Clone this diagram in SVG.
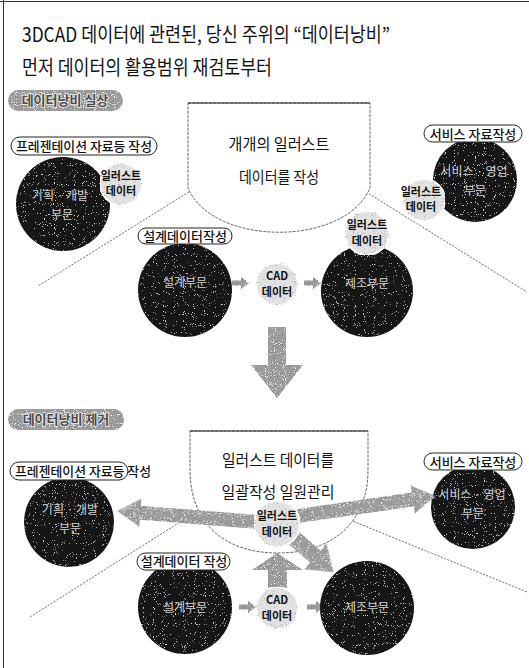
<svg xmlns="http://www.w3.org/2000/svg" width="529" height="668" viewBox="0 0 529 668">
<style>
text{font-family:"Noto Sans CJK KR","Noto Sans",sans-serif;text-anchor:middle}
.title{font-size:20px;fill:#111;text-anchor:start}
.lbl{font-size:13px;fill:#111;font-weight:500}
.gl{font-size:13px;fill:#4a4a4a;font-weight:700;stroke:#eee;stroke-width:1.6px;paint-order:stroke}
.ct{font-size:12px;fill:#d0d0d0}
.bt{font-size:11px;fill:#111;font-weight:700}
.big{font-size:16px;fill:#111}
.pill{fill:#fff;stroke:#222;stroke-width:1}
.dark{fill:#141414}
.bub{fill:#e2e2e2;stroke:#fff;stroke-width:2}
.gray{fill:#9c9c9c}
.dot{stroke:#444;stroke-width:0.8;stroke-dasharray:2 1.5;fill:none}
.frame{fill:#fff;stroke:#555;stroke-width:0.9;stroke-dasharray:3 1.2}
.ftop{stroke:#222;stroke-width:1.2}
</style>
<defs>
<filter id="spkD" x="0" y="0" width="100%" height="100%">
<feTurbulence type="fractalNoise" baseFrequency="1.1" numOctaves="1" seed="3" result="n"/>
<feColorMatrix in="n" type="matrix" values="0 0 0 0 0.7 0 0 0 0 0.7 0 0 0 0 0.7 14 0 0 0 -9.3" result="w"/>
<feComposite in="w" in2="SourceGraphic" operator="in" result="wi"/>
<feMerge><feMergeNode in="SourceGraphic"/><feMergeNode in="wi"/></feMerge>
</filter>
<filter id="spkG" x="0" y="0" width="100%" height="100%">
<feTurbulence type="fractalNoise" baseFrequency="1.1" numOctaves="1" seed="5" result="n"/>
<feColorMatrix in="n" type="matrix" values="0 0 0 0 0.2 0 0 0 0 0.2 0 0 0 0 0.2 12 0 0 0 -7.4" result="k"/>
<feColorMatrix in="n" type="matrix" values="0 0 0 0 1 0 0 0 0 1 0 0 0 0 1 -12 0 0 0 4.6" result="w"/>
<feComposite in="k" in2="SourceGraphic" operator="in" result="ki"/>
<feComposite in="w" in2="SourceGraphic" operator="in" result="wi"/>
<feMerge><feMergeNode in="SourceGraphic"/><feMergeNode in="ki"/><feMergeNode in="wi"/></feMerge>
</filter>
<filter id="spkL" x="0" y="0" width="100%" height="100%">
<feTurbulence type="fractalNoise" baseFrequency="1.1" numOctaves="1" seed="7" result="n"/>
<feColorMatrix in="n" type="matrix" values="0 0 0 0 0.4 0 0 0 0 0.4 0 0 0 0 0.4 12 0 0 0 -7.6" result="k"/>
<feComposite in="k" in2="SourceGraphic" operator="in" result="ki"/>
<feMerge><feMergeNode in="SourceGraphic"/><feMergeNode in="ki"/></feMerge>
</filter>
<path id="sa" d="M0,-2.5 H9 V-6 L17,0 L9,6 V2.5 H0 Z"/>
</defs>
<rect width="529" height="668" fill="#fff"/>
<line x1="3.5" y1="0" x2="3.5" y2="668" stroke="#333" stroke-width="1"/>
<line x1="0" y1="1.5" x2="529" y2="1.5" stroke="#333" stroke-width="1"/>

<g id="title">
<text class="title" x="22" y="42" textLength="368" lengthAdjust="spacingAndGlyphs">3DCAD 데이터에 관련된, 당신 주위의 “데이터낭비”</text>
<text class="title" x="22" y="75" textLength="250" lengthAdjust="spacingAndGlyphs">먼저 데이터의 활용범위 재검토부터</text>
</g>

<g id="connectors">
<line class="dot" x1="192" y1="190" x2="38" y2="286"/>
<line class="dot" x1="366" y1="192" x2="527" y2="292"/>
<line class="dot" x1="218" y1="498" x2="30" y2="617"/>
<line class="dot" x1="350" y1="520" x2="527" y2="592"/>
<use href="#sa" x="232" y="283" class="gray" filter="url(#spkG)"/>
<use href="#sa" x="304" y="283" class="gray" filter="url(#spkG)"/>
<use href="#sa" x="239" y="607" class="gray" filter="url(#spkG)"/>
<use href="#sa" x="307" y="607" class="gray" filter="url(#spkG)"/>
<path class="gray" filter="url(#spkG)" d="M268,327 H286 V365 H303 L277,398 L251,365 H268 Z"/>
</g>

<g id="top-label">
<rect x="8" y="90" width="115" height="21" rx="10.5" class="gray" filter="url(#spkG)"/>
<text class="gl" x="65" y="105">데이터낭비 실상</text>
</g>

<g id="top-center">
<path class="frame" d="M188,103 H370 V188 C345,247 213,247 188,188 Z"/>
<line class="ftop" x1="188" y1="103" x2="370" y2="103"/>
<text class="big" x="279" y="150" textLength="101" lengthAdjust="spacingAndGlyphs">개개의 일러스트</text>
<text class="big" x="279" y="183" textLength="80" lengthAdjust="spacingAndGlyphs">데이터를 작성</text>
</g>

<g id="top-plan">
<rect class="pill" x="11" y="137" width="146" height="18" rx="9"/>
<text class="lbl" x="84" y="151" textLength="136" lengthAdjust="spacingAndGlyphs">프레젠테이션 자료등 작성</text>
<circle class="dark" filter="url(#spkD)" cx="63" cy="204" r="47"/>
<text class="ct" x="60" y="200">기획 · 개발</text>
<text class="ct" x="62" y="219">부문</text>
<circle class="bub" filter="url(#spkL)" cx="121" cy="184" r="21"/>
<text class="bt" x="121" y="180">일러스트</text>
<text class="bt" x="121" y="195">데이터</text>
</g>

<g id="top-service">
<circle class="dark" filter="url(#spkD)" cx="475" cy="180" r="42"/>
<text class="ct" x="474" y="176">서비스 · 영업</text>
<text class="ct" x="475" y="195">부문</text>
<rect class="pill" x="424" y="125" width="98" height="17" rx="8.5"/>
<text class="lbl" x="473" y="138.5">서비스 자료작성</text>
<circle class="bub" filter="url(#spkL)" cx="424" cy="200" r="21"/>
<text class="bt" x="421" y="196">일러스트</text>
<text class="bt" x="421" y="211">데이터</text>
</g>

<g id="top-design">
<circle class="dark" filter="url(#spkD)" cx="185" cy="290" r="47"/>
<text class="ct" x="185" y="287">설계부문</text>
<rect class="pill" x="138" y="228" width="94" height="16" rx="8"/>
<text class="lbl" x="185" y="241" font-size="12.5">설계데이터작성</text>
</g>

<g id="top-cad">
<circle class="bub" filter="url(#spkL)" cx="277" cy="284" r="21"/>
<text class="bt" x="277" y="280">CAD</text>
<text class="bt" x="277" y="296">데이터</text>
</g>

<g id="top-mfg">
<circle class="dark" filter="url(#spkD)" cx="367" cy="291" r="46"/>
<text class="ct" x="367" y="288">제조부문</text>
<circle class="bub" filter="url(#spkL)" cx="367" cy="233" r="22"/>
<text class="bt" x="367" y="229">일러스트</text>
<text class="bt" x="367" y="245">데이터</text>
</g>

<g id="bottom-label">
<rect x="8" y="409" width="116" height="21" rx="10.5" class="gray" filter="url(#spkG)"/>
<text class="gl" x="66" y="424">데이터낭비 제거</text>
</g>

<g id="bottom-center">
<path class="frame" d="M190,431 H368 V470 C368,520 335,553 278,553 C221,553 190,520 190,470 Z"/>
<line class="ftop" x1="190" y1="431" x2="368" y2="431"/>
<text class="big" x="278" y="466" font-size="17" textLength="112" lengthAdjust="spacingAndGlyphs">일러스트 데이터를</text>
<text class="big" x="278" y="498" font-size="17" textLength="113" lengthAdjust="spacingAndGlyphs">일괄작성 일원관리</text>
</g>

<g id="bottom-plan">
<circle class="dark" filter="url(#spkD)" cx="69" cy="522" r="45"/>
<text class="ct" x="70" y="514">기획 · 개발</text>
<text class="ct" x="70" y="533">부문</text>
<rect class="pill" x="10" y="462" width="118" height="18" rx="9"/>
<text class="lbl" x="15" y="476" style="text-anchor:start" textLength="136" lengthAdjust="spacingAndGlyphs">프레젠테이션 자료등 작성</text>
</g>

<g id="bottom-service">
<circle class="dark" filter="url(#spkD)" cx="473" cy="507" r="42"/>
<text class="ct" x="472" y="499">서비스 · 영업</text>
<text class="ct" x="473" y="518">부문</text>
<rect class="pill" x="424" y="453" width="98" height="17" rx="8.5"/>
<text class="lbl" x="473" y="466.5">서비스 자료작성</text>
</g>

<g id="bottom-arrows">
<g transform="translate(258,522) rotate(184.5)"><path class="gray" filter="url(#spkG)" d="M0,-7 H118 V-14 L141,0 L118,14 V7 H0 Z"/></g>
<g transform="translate(298,516) rotate(-8.2)"><path class="gray" filter="url(#spkG)" d="M0,-7 H116 V-14 L139,0 L116,14 V7 H0 Z"/></g>
<g transform="translate(288,533) rotate(40.7)"><path class="gray" filter="url(#spkG)" d="M0,-8 H36 V-17 L60,0 L36,17 V8 H0 Z"/></g>
<path class="gray" filter="url(#spkG)" d="M268,592 V570 H252 L277,553 L303,570 H287 V592 Z"/>
</g>

<g id="bottom-hub">
<circle class="bub" filter="url(#spkL)" cx="277" cy="524" r="23"/>
<text class="bt" x="277" y="520">일러스트</text>
<text class="bt" x="277" y="536">데이터</text>
</g>

<g id="bottom-design">
<circle class="dark" filter="url(#spkD)" cx="185" cy="607" r="47"/>
<text class="ct" x="185" y="612">설계부문</text>
<rect class="pill" x="137" y="553" width="93" height="17" rx="8.5"/>
<text class="lbl" x="184" y="566" font-size="12.5">설계데이터 작성</text>
</g>

<g id="bottom-cad">
<circle class="bub" filter="url(#spkL)" cx="277" cy="608" r="21"/>
<text class="bt" x="277" y="604">CAD</text>
<text class="bt" x="277" y="620">데이터</text>
</g>

<g id="bottom-mfg">
<circle class="dark" filter="url(#spkD)" cx="367" cy="608" r="47"/>
<text class="ct" x="367" y="612">제조부문</text>
</g>
</svg>
